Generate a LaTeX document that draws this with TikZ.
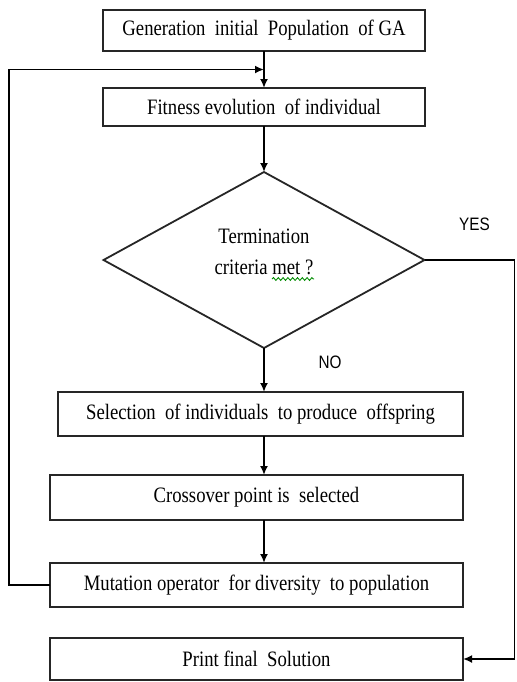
\documentclass[tikz,border=0pt]{standalone}
\usepackage{fontspec}
\setmainfont{Liberation Serif}[FakeStretch=0.85]
\newfontfamily\labelfont{Liberation Sans}[FakeStretch=0.85]
\usetikzlibrary{shapes.geometric,arrows.meta,positioning,calc,decorations.pathmorphing}

\begin{document}
\begin{tikzpicture}[
        node distance=18.5pt,
        line width=0.9pt,
        every node/.append style={outer sep=0pt},
        stepbox/.style={rectangle, draw=black!85, minimum width=161pt, minimum height=20pt, align=center, inner sep=0pt, font=\fontsize{11}{13}\selectfont},
        widebox/.style={stepbox, minimum width=206.5pt, minimum height=22pt},
        decision/.style={diamond, draw=black!85, minimum width=160.5pt, minimum height=88pt, aspect=1.8, inner sep=0pt},
        answer/.style={font=\labelfont\fontsize{9}{11}\selectfont},
        arr/.style={-{Latex[length=4.5pt,width=4pt]}}
    ]
    \useasboundingbox (0,0) rectangle (258pt,-341pt);

    % main column
    \node[stepbox, minimum height=20.5pt] (init) at (132pt,-15.25pt) {Generation\ \ initial\ \ Population\ \ of\ GA};
    \node[stepbox, minimum height=19pt, below=of init] (fitness) {Fitness evolution\ \ of individual};
    \node[decision, below=23pt of fitness] (term) {};
    \node[align=center, font=\fontsize{11}{15.5}\selectfont] (termtext) at ($(term.center)+(0,4pt)$) {Termination\\criteria met ?};
    \node[widebox, minimum width=202.5pt, below=22pt of term, xshift=-1.75pt] (select) {Selection\ \ of individuals\ \ to produce\ \ offspring};
    \node[widebox, minimum height=22.5pt, below=19.5pt of select, xshift=-2pt] (cross) {Crossover point is\ \ selected};
    \node[widebox, below=21.5pt of cross] (mutate) {Mutation operator\ \ for diversity\ \ to population};
    \node[widebox, minimum height=21pt, below=15.5pt of mutate] (print) {Print final\ \ Solution};

    % answers
    \node[answer] (yes) at ($(term.east)+(25pt,18pt)$) {YES};
    \node[answer] (no) at ($(term.south)+(33pt,-7pt)$) {NO};
    \draw[decorate, decoration={snake, amplitude=0.7pt, segment length=2.4pt}, green!55!black, line width=0.45pt] ($(term.center)+(4pt,-9.5pt)$) -- ++(21pt,0);

    % connections
    \coordinate (back) at ($(init.south)!0.5!(fitness.north)$);
    \draw[arr] (init) -- (fitness);
    \draw[arr] (fitness) -- (term.north);
    \draw[arr] (term.south) -- (term.south |- select.north);
    \draw[arr] (select.south -| term.south) -- (cross.north -| term.south);
    \draw[arr] (cross.south -| term.south) -- (mutate.north -| term.south);
    \draw[arr] (mutate.west) -- ++(-20.5pt,0) |- (back);
    \draw[arr] (term.east) -- ++(45pt,0) |- (print.east);

\end{tikzpicture}
\end{document}
